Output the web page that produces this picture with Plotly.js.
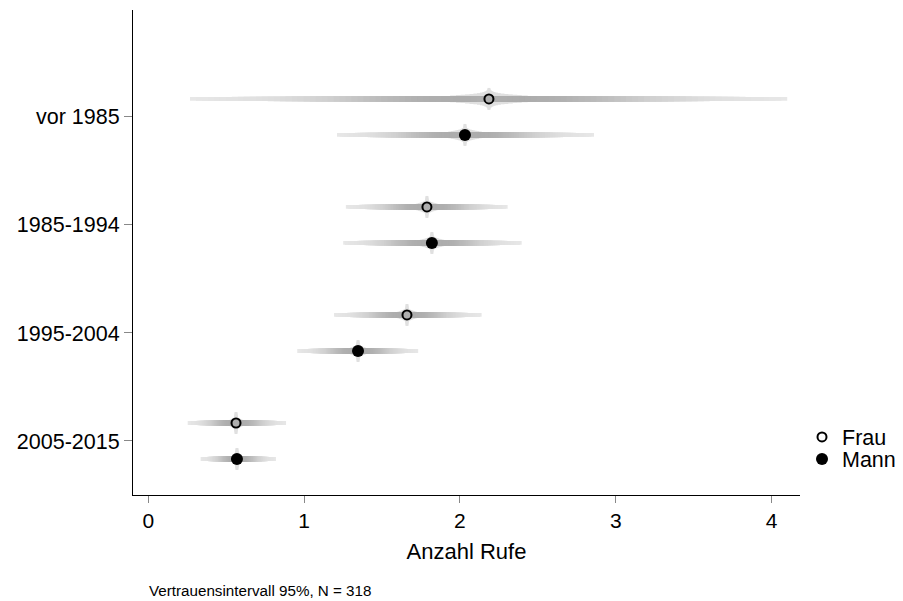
<!DOCTYPE html>
<html>
<head>
<meta charset="utf-8">
<script src="https://cdn.plot.ly/plotly-3.0.1.min.js"></script>
<style>html,body{margin:0;padding:0;background:#fff;}#chart{width:903px;height:601px;}</style>
</head>
<body>
<div id="chart"></div>
<script>
// ---- data ----
var categories = ['vor 1985', '1985-1994', '1995-2004', '2005-2015'];
var categoryPos = [4, 3, 2, 1];
var frauEst = [2.186, 1.788, 1.660, 0.563];
var frauLo  = [0.268, 1.268, 1.192, 0.253];
var frauHi  = [4.100, 2.306, 2.139, 0.884];
var mannEst = [2.032, 1.820, 1.346, 0.569];
var mannLo  = [1.211, 1.251, 0.956, 0.336];
var mannHi  = [2.860, 2.396, 1.732, 0.819];
var seriesNames = ['Frau', 'Mann'];
var caption = 'Vertrauensintervall 95%, N = 318';
var xTitle = 'Anzahl Rufe';

// ---- build rows ----
var rowOffset = 1/6;
var rows = [];
for (var i = 0; i < categories.length; i++) {
  rows.push({y: categoryPos[i] + rowOffset, est: frauEst[i], lo: frauLo[i], hi: frauHi[i]});
  rows.push({y: categoryPos[i] - rowOffset, est: mannEst[i], lo: mannLo[i], hi: mannHi[i]});
}

function interp(f, pts) {
  if (f <= pts[0][0]) return pts[0][1];
  for (var k = 1; k < pts.length; k++) {
    if (f <= pts[k][0]) {
      var a = pts[k-1], b = pts[k];
      return a[1] + (b[1]-a[1]) * (f - a[0]) / (b[0] - a[0]);
    }
  }
  return pts[pts.length-1][1];
}

var traces = [];
var pxUnit = 1/155.85;

// halo (light star around the estimate), drawn underneath
var haloLevels = [0.15, 0.13, 0.11, 0.095, 0.08, 0.065, 0.052, 0.04, 0.03, 0.022, 0.015, 0.01, 0.006, 0.003];
var haloW = [[0.003, 22], [0.008, 17.5], [0.02, 14], [0.04, 11.5], [0.08, 9], [0.15, 6]];
haloLevels.forEach(function (f) {
  var xs = [], ys = [];
  rows.forEach(function (r) {
    var l = Math.max(f * (r.est - r.lo), 1.5 * pxUnit);
    var h = Math.max(f * (r.hi - r.est), 1.5 * pxUnit);
    xs.push(r.est - l, r.est + h, null);
    ys.push(r.y, r.y, null);
  });
  traces.push({x: xs, y: ys, type: 'scatter', mode: 'lines', showlegend: false, hoverinfo: 'skip',
    line: {color: 'rgb(224,224,224)', width: interp(f, haloW)}});
});

// smoothed confidence bars
var mainW = [[0, 5.8], [0.5, 5.4], [0.75, 4.4], [1, 3.8]];
var mainG = [[0, 176], [0.12, 172], [0.25, 176], [0.4, 190], [0.55, 208], [0.75, 223], [1, 231]];
for (var n = 50; n >= 1; n--) {
  var f = n / 50;
  var xs = [], ys = [];
  rows.forEach(function (r) {
    xs.push(r.est - f * (r.est - r.lo), r.est + f * (r.hi - r.est), null);
    ys.push(r.y, r.y, null);
  });
  var g = Math.round(interp(f, mainG));
  traces.push({x: xs, y: ys, type: 'scatter', mode: 'lines', showlegend: false, hoverinfo: 'skip',
    line: {color: 'rgb(' + g + ',' + g + ',' + g + ')', width: interp(f, mainW)}});
}

// point estimates
traces.push({
  x: frauEst, y: categoryPos.map(function (p) { return p + rowOffset; }),
  type: 'scatter', mode: 'markers', name: seriesNames[0], hoverinfo: 'x', legend: 'legend',
  marker: {symbol: 'circle-open', size: 9, color: '#000', line: {width: 2, color: '#000'}}
});
traces.push({
  x: mannEst, y: categoryPos.map(function (p) { return p - rowOffset; }),
  type: 'scatter', mode: 'markers', name: seriesNames[1], hoverinfo: 'x', legend: 'legend2',
  marker: {symbol: 'circle', size: 12, color: '#000'}
});

var font = 'Arial, "Liberation Sans", sans-serif';
var plotH = 485, plotW = 667;
function legendAt(cy) {
  return {x: (802 - 133) / plotW, xanchor: 'left', y: (495 - cy) / plotH, yanchor: 'middle',
    font: {family: font, size: 21.5, color: '#000'}, bgcolor: 'rgba(0,0,0,0)', borderwidth: 0,
    itemwidth: 30};
}
var layout = {
  width: 903, height: 601,
  margin: {l: 133, r: 103, t: 10, b: 106, autoexpand: false},
  paper_bgcolor: '#fff', plot_bgcolor: '#fff',
  font: {family: font, size: 21.5, color: '#000'},
  showlegend: true,
  legend: legendAt(437),
  legend2: legendAt(459),
  xaxis: {
    range: [-0.098, 4.182], tickvals: [0, 1, 2, 3, 4], ticktext: ['0', '1', '2', '3', '4'],
    showgrid: false, zeroline: false, showline: true, linecolor: '#000', linewidth: 1,
    ticks: 'outside', ticklen: 7, tickcolor: '#888', tickwidth: 1,
    tickfont: {family: font, size: 21, color: '#000'},
    title: {text: xTitle, font: {family: font, size: 22, color: '#000'}, standoff: 12}
  },
  yaxis: {
    range: [0.5, 4.99], tickvals: categoryPos, ticktext: categories,
    showgrid: false, zeroline: false, showline: true, linecolor: '#000', linewidth: 1,
    ticks: 'outside', ticklen: 8, tickcolor: '#888', tickwidth: 1,
    tickfont: {family: font, size: 21.5, color: '#000'}
  },
  annotations: [{
    text: caption, xref: 'paper', yref: 'paper', x: (147 - 133) / plotW, y: (495 - 590) / plotH,
    xanchor: 'left', yanchor: 'middle', showarrow: false, font: {family: font, size: 15.2, color: '#000'}
  }]
};

Plotly.newPlot('chart', traces, layout, {staticPlot: true, displayModeBar: false});
</script>
</body>
</html>
